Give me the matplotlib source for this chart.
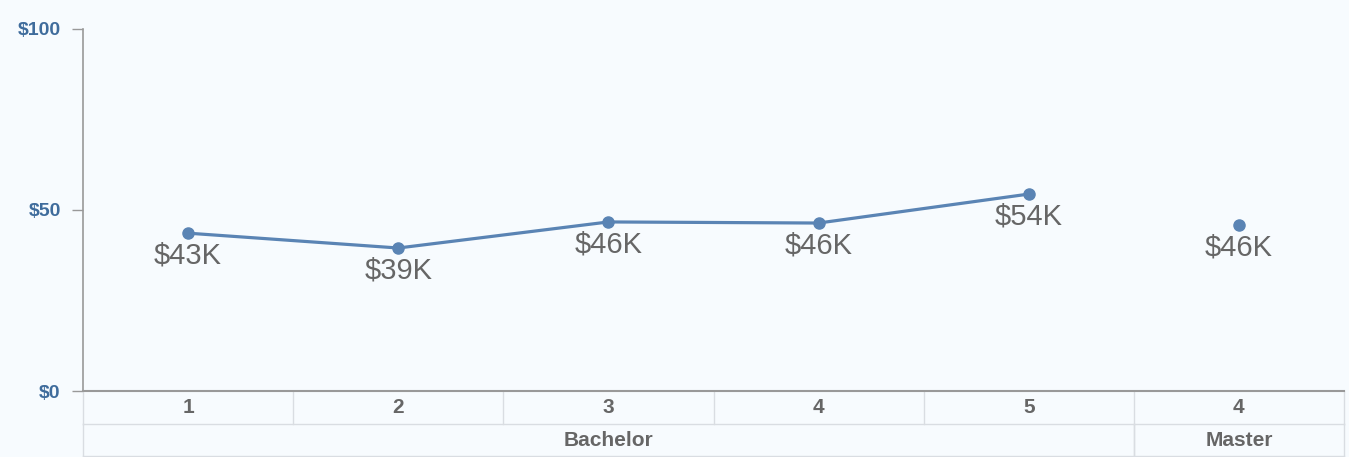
import matplotlib.pyplot as plt
import numpy as np

plt.rcParams['font.family'] = ['Liberation Sans', 'DejaVu Sans']

# data
years = ['1', '2', '3', '4', '5', '4']
degrees = ['Bachelor', 'Bachelor', 'Bachelor', 'Bachelor', 'Bachelor', 'Master']
salary = [43.6, 39.5, 46.7, 46.4, 54.4, 45.9]
labels = ['$43K', '$39K', '$46K', '$46K', '$54K', '$46K']
yticks = [0, 50, 100]
ytick_labels = ['$0', '$50', '$100']

bg = '#f7fbfe'
blue = '#5a84b4'
grey = '#666666'
grid = '#d9dde2'

W, H = 1349, 457
fig = plt.figure(figsize=(W / 100, H / 100), dpi=100, facecolor=bg)
ax = fig.add_axes([83 / W, (H - 391) / H, (1344 - 83) / W, (391 - 29) / H])
ax.set_facecolor(bg)

x = np.arange(len(years))
groups = []
for i, d in enumerate(degrees):
    if groups and groups[-1][0] == d:
        groups[-1][2] = i
    else:
        groups.append([d, i, i])

# line within each degree group
for d, a, b in groups:
    ax.plot(x[a:b + 1], salary[a:b + 1], color=blue, lw=2.3, marker='o',
            ms=8, mfc=blue, mec=blue, zorder=3)

for xi, v, lab in zip(x, salary, labels):
    ax.annotate(lab, (xi, v), xytext=(0, -6), textcoords='offset points',
                ha='center', va='top', fontsize=21, color=grey)

ax.set_xlim(-0.5, len(years) - 0.5)
ax.set_ylim(0, 100)
ax.set_yticks(yticks)
ax.set_yticklabels(ytick_labels, fontsize=14, fontweight='bold', color='#3f6c9c')
ax.tick_params(axis='y', length=8, width=1, color='#999999', pad=8)
ax.set_xticks([])
for s in ['top', 'right']:
    ax.spines[s].set_visible(False)
ax.spines['left'].set_color('#999999')
ax.spines['bottom'].set_color('#999999')
ax.spines['left'].set_linewidth(1.2)
ax.spines['bottom'].set_linewidth(1.5)

# category table under the axis
tr = ax.get_xaxis_transform()
r1 = -33 / 362
r2 = -65 / 362
lo, hi = -0.5, len(years) - 0.5
for yy in [r1, r2]:
    ax.plot([lo, hi], [yy, yy], color=grid, lw=1, transform=tr, clip_on=False)
for xi in np.arange(len(years) + 1) - 0.5:
    ax.plot([xi, xi], [0, r1], color=grid, lw=1, transform=tr, clip_on=False)
for xi, yl in zip(x, years):
    ax.text(xi, r1 / 2, yl, transform=tr, ha='center', va='center',
            fontsize=15, fontweight='bold', color=grey)
for d, a, b in groups:
    for xi in [a - 0.5, b + 0.5]:
        ax.plot([xi, xi], [r1, r2], color=grid, lw=1, transform=tr, clip_on=False)
    ax.text((a + b) / 2, (r1 + r2) / 2, d, transform=tr, ha='center', va='center',
            fontsize=15, fontweight='bold', color=grey)

fig.savefig('out.png', dpi=100, facecolor=bg)
